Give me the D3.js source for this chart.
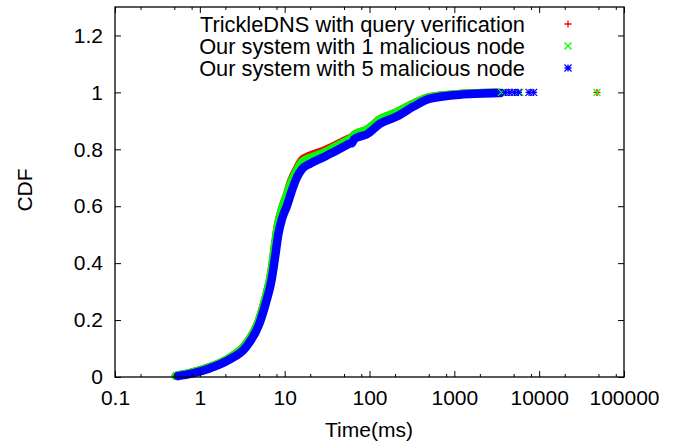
<!DOCTYPE html>
<html>
<head>
<meta charset="utf-8">
<script src="https://cdn.jsdelivr.net/npm/d3@7"></script>
<style>
    body { margin: 0; background: #fff; }
    svg { display: block; }
    text { font-family: "Liberation Sans", Arial, sans-serif; font-size: 21px; fill: #000; }
</style>
</head>
<body>
<div id="chart-container"></div>
<script>
// Series labels (legend order)
const seriesNames = [
    "TrickleDNS with query verification",
    "Our system with 1 malicious node",
    "Our system with 5 malicious node"
];

// CDF points: [time in ms, cdf]
const trickleData = [
    [0.52, 0.004], [0.8, 0.015], [1.3, 0.034], [2.2, 0.066], [3.5, 0.115], [5.0, 0.2],
    [6.0, 0.28], [7.0, 0.37], [7.6, 0.45], [8.3, 0.53], [9.3, 0.59], [10.5, 0.635],
    [12, 0.69], [13.9, 0.73], [16, 0.762], [20, 0.778], [30, 0.797], [37.5, 0.81],
    [54, 0.834], [58, 0.838], [62, 0.842], [66, 0.85], [77, 0.86], [92, 0.868],
    [133, 0.905], [209, 0.93], [329, 0.96], [516, 0.983], [1277, 0.995], [3160, 0.999]
];
const oneNodeData = [
    [0.52, 0.004], [0.8, 0.015], [1.3, 0.034], [2.2, 0.066], [3.5, 0.115], [5.0, 0.2],
    [6.0, 0.28], [7.0, 0.37], [7.6, 0.45], [8.3, 0.53], [9.3, 0.59], [10.5, 0.635],
    [12, 0.685], [13.9, 0.725], [16, 0.755], [20, 0.77], [30, 0.79], [37.5, 0.805],
    [54, 0.83], [58, 0.835], [62, 0.84], [66, 0.85], [77, 0.86], [92, 0.868],
    [133, 0.905], [209, 0.93], [329, 0.96], [516, 0.983], [1277, 0.995], [3160, 0.999]
];
const fiveNodeData = [
    [0.55, 0.003], [0.8, 0.012], [1.3, 0.03], [2.2, 0.06], [3.5, 0.105], [5.0, 0.185],
    [6.0, 0.26], [7.0, 0.34], [7.7, 0.42], [8.4, 0.5], [9.4, 0.56], [10.6, 0.6],
    [12, 0.65], [13.9, 0.7], [16, 0.73], [20, 0.75], [30, 0.775], [37.5, 0.79],
    [54, 0.815], [58, 0.82], [62, 0.822], [66, 0.835], [77, 0.845], [92, 0.852],
    [133, 0.89], [209, 0.915], [329, 0.95], [516, 0.978], [1277, 0.993], [3500, 0.998]
];

// Sparse tail samples (drawn as single markers)
const trickleTail = [[48000, 1.0]];
const oneNodeTail = [[3600, 1.0], [5900, 1.0], [48000, 1.0]];
const fiveNodeTail = [[4000, 1.0], [4500, 1.0], [5100, 1.0], [5700, 1.0], [7600, 1.0], [8600, 1.0]];

// Tick values
const xMajorTicks = [0.1, 1, 10, 100, 1000, 10000, 100000];
const xMinorTicks = [0.2, 0.5, 0.8, 2, 5, 8, 20, 50, 80, 200, 500, 800, 2000, 5000, 8000, 20000, 50000, 80000];
const yTicks = [0, 0.2, 0.4, 0.6, 0.8, 1, 1.2];

const colors = ["#ff0000", "#00ff00", "#0000ff"];

// Marker shapes like gnuplot point types 1, 2, 3
function markerPath(type, s) {
    const plus = `M${-s},0H${s}M0,${-s}V${s}`;
    const cross = `M${-s},${-s}L${s},${s}M${-s},${s}L${s},${-s}`;
    if (type === 0) return plus;
    if (type === 1) return cross;
    return plus + cross;
}

function createChart() {
    const width = 676, height = 442;
    const plot = { left: 115, right: 624, top: 7, bottom: 377 };

    const svg = d3.select("#chart-container")
        .append("svg")
        .attr("width", width)
        .attr("height", height);

    svg.append("rect").attr("width", width).attr("height", height).attr("fill", "#fff");

    const x = d3.scaleLog().domain([0.1, 100000]).range([plot.left, plot.right]);
    const y = d3.scaleLinear().domain([0, 1.3]).range([plot.bottom, plot.top]);

    // Curves: dense point clouds look like thick bands
    const line = d3.line()
        .x(d => x(d[0]))
        .y(d => y(d[1]))
        .curve(d3.curveMonotoneX);

    const allData = [trickleData, oneNodeData, fiveNodeData];
    const tails = [trickleTail, oneNodeTail, fiveNodeTail];

    allData.forEach((data, i) => {
        svg.append("path")
            .datum(data)
            .attr("fill", "none")
            .attr("stroke", colors[i])
            .attr("stroke-width", 8.5)
            .attr("stroke-linejoin", "round")
            .attr("stroke-linecap", "round")
            .attr("d", line);
    });

    tails.forEach((data, i) => {
        svg.selectAll(null)
            .data(data)
            .enter().append("path")
            .attr("transform", d => `translate(${x(d[0])},${y(d[1])})`)
            .attr("d", markerPath(i, 3.5))
            .attr("fill", "none")
            .attr("stroke", colors[i])
            .attr("stroke-width", 1.3);
    });

    // Add the x-axis (major + minor, ticks pointing inward)
    svg.append("g")
        .attr("transform", `translate(0,${plot.bottom})`)
        .call(d3.axisBottom(x).tickValues(xMajorTicks).tickSize(-6).tickPadding(13)
            .tickFormat(d => d < 1 ? d3.format(".1f")(d) : d3.format("d")(d)));
    svg.append("g")
        .attr("transform", `translate(0,${plot.bottom})`)
        .call(d3.axisBottom(x).tickValues(xMinorTicks).tickSize(-3).tickFormat(""));

    // Mirrored ticks on top
    svg.append("g")
        .attr("transform", `translate(0,${plot.top})`)
        .call(d3.axisTop(x).tickValues(xMajorTicks).tickSize(-6).tickFormat(""));
    svg.append("g")
        .attr("transform", `translate(0,${plot.top})`)
        .call(d3.axisTop(x).tickValues(xMinorTicks).tickSize(-3).tickFormat(""));

    // Add the y-axis
    svg.append("g")
        .attr("transform", `translate(${plot.left},0)`)
        .call(d3.axisLeft(y).tickValues(yTicks).tickSize(-6).tickPadding(12)
            .tickFormat(d => d3.format("")(d)));
    svg.append("g")
        .attr("transform", `translate(${plot.right},0)`)
        .call(d3.axisRight(y).tickValues(yTicks).tickSize(-6).tickFormat(""));

    svg.selectAll(".domain").remove();
    svg.selectAll(".tick line").attr("stroke", "#000").attr("stroke-width", 1);
    svg.selectAll(".tick text")
        .attr("font-family", null).attr("font-size", null)
        .style("font-size", "21px");

    // Frame
    svg.append("rect")
        .attr("x", plot.left).attr("y", plot.top)
        .attr("width", plot.right - plot.left).attr("height", plot.bottom - plot.top)
        .attr("fill", "none").attr("stroke", "#000").attr("stroke-width", 1.3);

    // Axis titles
    svg.append("text")
        .attr("transform", "translate(32,190) rotate(-90)")
        .attr("text-anchor", "middle")
        .text("CDF");
    svg.append("text")
        .attr("x", 369).attr("y", 437)
        .attr("text-anchor", "middle")
        .text("Time(ms)");

    // Legend
    const legendY = [24, 46, 68];
    seriesNames.forEach((name, i) => {
        svg.append("text")
            .attr("x", 525).attr("y", legendY[i] + 7.5)
            .attr("text-anchor", "end")
            .style("font-size", "21.8px")
            .text(name);
        svg.append("path")
            .attr("transform", `translate(568,${legendY[i]})`)
            .attr("d", markerPath(i, 3.5))
            .attr("fill", "none")
            .attr("stroke", colors[i])
            .attr("stroke-width", 1.3);
    });
}

createChart();
</script>
</body>
</html>
